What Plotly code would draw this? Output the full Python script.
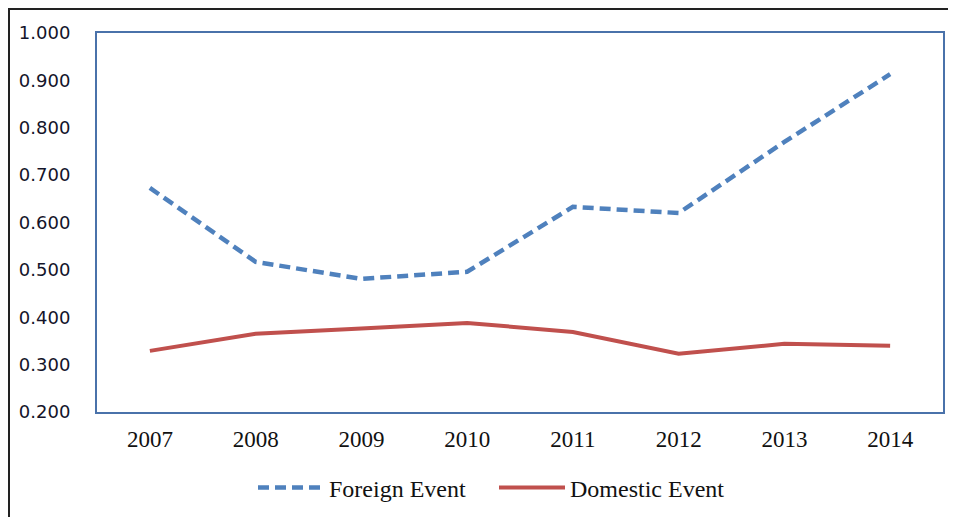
import plotly.graph_objects as go

years = ["2007", "2008", "2009", "2010", "2011", "2012", "2013", "2014"]
foreign_event = [0.673, 0.517, 0.481, 0.496, 0.633, 0.620, 0.770, 0.913]
domestic_event = [0.329, 0.365, 0.376, 0.388, 0.369, 0.323, 0.344, 0.340]
y_ticks = [0.2, 0.3, 0.4, 0.5, 0.6, 0.7, 0.8, 0.9, 1.0]

fig = go.Figure()
fig.add_trace(go.Scatter(
    x=years, y=foreign_event, mode="lines", name="Foreign Event",
    line=dict(color="#4F81BD", width=4.5, dash="11px,6px"),
))
fig.add_trace(go.Scatter(
    x=years, y=domestic_event, mode="lines", name="Domestic Event",
    line=dict(color="#C0504D", width=4),
))

# page has an 8px body margin; figure coordinates are page coordinates minus 8
W, H = 948, 509
ml, mr, mt, mb = 89, 13, 25, 105
pw, ph = W - ml - mr, H - mt - mb

fig.update_layout(
    width=W, height=H,
    margin=dict(l=ml, r=mr, t=mt, b=mb, pad=0, autoexpand=False),
    paper_bgcolor="white", plot_bgcolor="white",
    showlegend=True,
    legend=dict(
        orientation="h", xref="container", yref="container",
        x=(253 - 8) / W, xanchor="left",
        y=(H - (488 - 8)) / H, yanchor="middle",
        font=dict(family="Liberation Serif", size=24, color="#111111"),
        itemwidth=66, entrywidth=160, bgcolor="rgba(0,0,0,0)",
    ),
    xaxis=dict(
        type="category", range=[-0.5, 7.5],
        showgrid=False, zeroline=False,
        showline=True, linecolor="#4A72AA", linewidth=2, mirror=True,
        ticks="", ticklabelstandoff=5,
        tickfont=dict(family="Liberation Serif", size=23, color="#111111"),
    ),
    yaxis=dict(
        range=[0.2, 1.0], tickvals=y_ticks,
        ticktext=[f"{v:.3f}" for v in y_ticks],
        showgrid=False, zeroline=False,
        showline=True, linecolor="#4A72AA", linewidth=2, mirror=True,
        ticks="", ticklabelstandoff=21,
        tickfont=dict(family="DejaVu Sans", size=18, color="#14142a"),
    ),
    shapes=[dict(
        type="rect", xref="paper", yref="paper",
        x0=(1 - ml) / pw, x1=(W + 20 - ml) / pw,
        y0=(-20 - mb) / ph, y1=(H - 1 - mb) / ph,
        line=dict(color="#222222", width=2), layer="below",
    )],
)

fig.write_html("out.html")
